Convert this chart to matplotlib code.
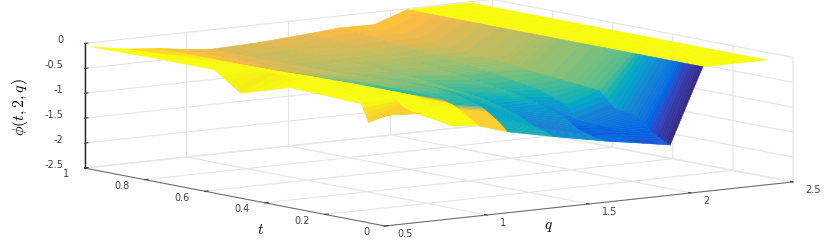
import numpy as np
import matplotlib
matplotlib.use("Agg")
import matplotlib.pyplot as plt
from matplotlib.colors import LinearSegmentedColormap, Normalize
from mpl_toolkits.mplot3d import proj3d

# --- values ---
q_vals = [0.53, 0.7, 0.85, 0.98, 1.12, 1.35, 1.6, 1.75, 1.92, 2.08, 2.39]
t_vals = [0.015, 0.04, 0.075, 0.1, 0.14, 0.2, 0.25, 0.34, 0.5, 0.59, 0.8, 1.0]
phi_rows = [
    [-0.30, -0.35, -0.66, -0.72, -0.90, -1.10, -1.30, -1.40, -1.52, -0.02, -0.02],
    [-0.35, -0.36, -0.62, -0.62, -0.75, -1.05, -1.28, -1.38, -1.45, -0.02, -0.02],
    [-0.52, -0.30, -0.45, -0.48, -0.60, -0.98, -1.22, -1.30, -1.35, -0.02, -0.02],
    [-0.17, -0.15, -0.22, -0.40, -0.50, -0.91, -1.19, -1.21, -1.17, -0.02, -0.02],
    [-0.17, -0.13, -0.20, -0.33, -0.42, -0.80, -1.02, -1.20, -1.06, -0.02, -0.02],
    [-0.15, -0.13, -0.20, -0.30, -0.34, -0.69, -0.86, -1.19, -1.00, -0.02, -0.02],
    [-0.14, -0.12, -0.20, -0.30, -0.30, -0.62, -0.78, -0.90, -0.70, -0.02, -0.02],
    [-0.13, -0.12, -0.20, -0.30, -0.30, -0.55, -0.68, -0.70, -0.65, -0.02, -0.02],
    [-0.43, -0.12, -0.22, -0.30, -0.35, -0.45, -0.55, -0.55, -0.56, -0.02, -0.02],
    [-0.06, -0.12, -0.24, -0.33, -0.38, -0.42, -0.48, -0.48, -0.50, -0.02, -0.02],
    [-0.06, -0.14, -0.25, -0.33, -0.40, -0.38, -0.38, -0.35, -0.38, -0.02, -0.02],
    [-0.08, -0.20, -0.25, -0.33, -0.39, -0.36, -0.29, -0.24, -0.25, -0.02, -0.02],
]
# the facet colours do not follow the height, so they are read on their own
colour_rows = [
    [-0.22, -0.03, -0.03, -0.22, -0.90, -1.10, -1.30, -1.40, -1.55, -0.02, -0.02],
    [-0.22, -0.03, -0.03, -0.22, -0.92, -1.15, -1.32, -1.38, -1.50, -0.02, -0.02],
    [-0.22, -0.03, -0.03, -0.22, -0.98, -1.20, -1.38, -1.35, -1.42, -0.02, -0.02],
    [-0.03, -0.03, -0.10, -0.85, -1.00, -1.18, -1.35, -1.30, -1.28, -0.02, -0.02],
    [-0.03, -0.03, -0.80, -0.82, -0.92, -1.12, -1.25, -1.25, -1.18, -0.02, -0.02],
    [-0.03, -0.03, -0.80, -0.75, -0.85, -1.05, -1.15, -1.19, -1.00, -0.02, -0.02],
    [-0.03, -0.03, -0.80, -0.70, -0.78, -0.92, -1.02, -0.88, -0.72, -0.02, -0.02],
    [-0.03, -0.03, -0.72, -0.62, -0.68, -0.78, -0.82, -0.75, -0.65, -0.02, -0.02],
    [-0.10, -0.03, -0.55, -0.52, -0.58, -0.62, -0.65, -0.62, -0.56, -0.02, -0.02],
    [-0.03, -0.03, -0.42, -0.46, -0.52, -0.55, -0.58, -0.55, -0.50, -0.02, -0.02],
    [-0.03, -0.10, -0.30, -0.38, -0.45, -0.43, -0.42, -0.38, -0.38, -0.02, -0.02],
    [-0.03, -0.20, -0.25, -0.33, -0.39, -0.36, -0.29, -0.24, -0.25, -0.02, -0.02],
]

q_ticks = [0.5, 1, 1.5, 2, 2.5]
t_ticks = [0, 0.2, 0.4, 0.6, 0.8, 1]
z_ticks = [-2.5, -2, -1.5, -1, -0.5, 0]
q_labels = ["0.5", "1", "1.5", "2", "2.5"]
t_labels = ["0", "0.2", "0.4", "0.6", "0.8", "1"]
z_labels = ["-2.5", "-2", "-1.5", "-1", "-0.5", "0"]

parula = LinearSegmentedColormap.from_list("parula", [
    (0.2081, 0.1663, 0.5292), (0.2123, 0.2138, 0.6270), (0.1959, 0.2645, 0.7279),
    (0.1253, 0.3242, 0.8303), (0.0117, 0.3875, 0.8820), (0.0165, 0.4266, 0.8786),
    (0.0498, 0.4586, 0.8641), (0.0723, 0.4887, 0.8467), (0.0793, 0.5200, 0.8312),
    (0.0641, 0.5570, 0.8240), (0.0343, 0.5966, 0.8199), (0.0239, 0.6287, 0.8038),
    (0.0228, 0.6535, 0.7768), (0.0384, 0.6743, 0.7436), (0.0843, 0.6928, 0.7062),
    (0.1453, 0.7098, 0.6646), (0.2178, 0.7250, 0.6193), (0.3022, 0.7376, 0.5712),
    (0.3953, 0.7459, 0.5244), (0.4871, 0.7491, 0.4840), (0.5709, 0.7485, 0.4494),
    (0.6473, 0.7456, 0.4188), (0.7184, 0.7411, 0.3905), (0.7858, 0.7356, 0.3633),
    (0.8507, 0.7299, 0.3360), (0.9139, 0.7258, 0.3063), (0.9739, 0.7314, 0.2666),
    (0.9990, 0.7653, 0.2164), (0.9880, 0.8066, 0.1794), (0.9697, 0.8481, 0.1475),
    (0.9589, 0.8949, 0.1132), (0.9661, 0.9514, 0.0755), (0.9763, 0.9831, 0.0538),
])

plt.rcParams["mathtext.fontset"] = "cm"
plt.rcParams["font.family"] = "DejaVu Sans"

W, H = 830, 240
fig = plt.figure(figsize=(W / 100, H / 100), dpi=100)
ax = fig.add_axes([0, 0, 1, 1], projection="3d", proj_type="ortho")
ax.patch.set_alpha(0)
ax.view_init(elev=8.3, azim=-126.8)
ax.set_box_aspect((510, 502, 126))

ax.set_xlim(0.5, 2.5)
ax.set_ylim(0, 1)
ax.set_zlim(-2.5, 0)
ax.set_xticks(q_ticks, q_labels)
ax.set_yticks(t_ticks, t_labels)
ax.set_zticks(z_ticks, z_labels)
ax.tick_params(labelsize=7, colors="#444444", pad=0, width=0.5)
ax.tick_params(axis="x", pad=3)
ax.tick_params(axis="y", pad=2)

for axis in (ax.xaxis, ax.yaxis, ax.zaxis):
    axis.set_pane_color((1, 1, 1, 0))
    axis.pane.set_edgecolor("#e4e4e4")
    axis._axinfo["grid"].update(color="#e6e6e6", linewidth=0.9)
    axis.line.set_color("#666666")
    axis.line.set_linewidth(0.7)
    axis._axinfo["tick"].update(inward_factor=0.0, outward_factor=0.1)
ax.zaxis.line.set_color("#222222")
ax.zaxis.line.set_linewidth(1.0)

for lab in ax.get_xticklabels():
    lab.set_ha("left")
    lab.set_va("center")
for lab in ax.get_yticklabels():
    lab.set_ha("right")
    lab.set_va("center")
for lab in ax.get_zticklabels():
    lab.set_ha("right")
    lab.set_va("baseline")

# --- surface ---
# t is split finer only so the facets get the thin colour stripes
t_arr = np.array(t_vals)
phi = np.array(phi_rows)
colour_vals = np.array(colour_rows)
t_fine = np.concatenate([np.linspace(a, b, 5)[:-1] for a, b in zip(t_arr[:-1], t_arr[1:])] + [t_arr[-1:]])
phi_fine = np.column_stack([np.interp(t_fine, t_arr, phi[:, j]) for j in range(phi.shape[1])])
col_fine = np.column_stack([np.interp(t_fine, t_arr, colour_vals[:, j]) for j in range(phi.shape[1])])
Q, T = np.meshgrid(q_vals, t_fine)

norm = Normalize(vmin=-1.55, vmax=-0.03)
surf = ax.plot_surface(Q, T, phi_fine, facecolors=parula(norm(col_fine)), rcount=Q.shape[0], ccount=Q.shape[1],
                       shade=False, linewidth=0.4, antialiased=True)


def corner_px(x, y, z):
    X, Y, _ = proj3d.proj_transform(x, y, z, ax.get_proj())
    return ax.transData.transform((X, Y))


# --- fit the box to the corners seen in the picture ---
fig.canvas.draw()
a = corner_px(0.5, 0, -2.5)
b = corner_px(2.5, 0, -2.5)
scale = 408.0 / (b[0] - a[0])
size = ax.get_position().width * W * scale
ax.set_position([0, 0, size / W, size / H])
fig.canvas.draw()
a = corner_px(0.5, 0, -2.5)
dx, dy = 385 - a[0], (H - 226) - a[1]
ax.set_position([dx / W, dy / H, size / W, size / H])

fig.text(261 / W, 1 - 229 / H, r"$t$", fontsize=11, ha="center", va="center")
fig.text(548 / W, 1 - 227 / H, r"$q$", fontsize=11, ha="center", va="center")
fig.text(20 / W, 1 - 107 / H, r"$\phi(t,2,q)$", fontsize=11.5, rotation=90, ha="center", va="center")

fig.savefig("out.png", dpi=100)
